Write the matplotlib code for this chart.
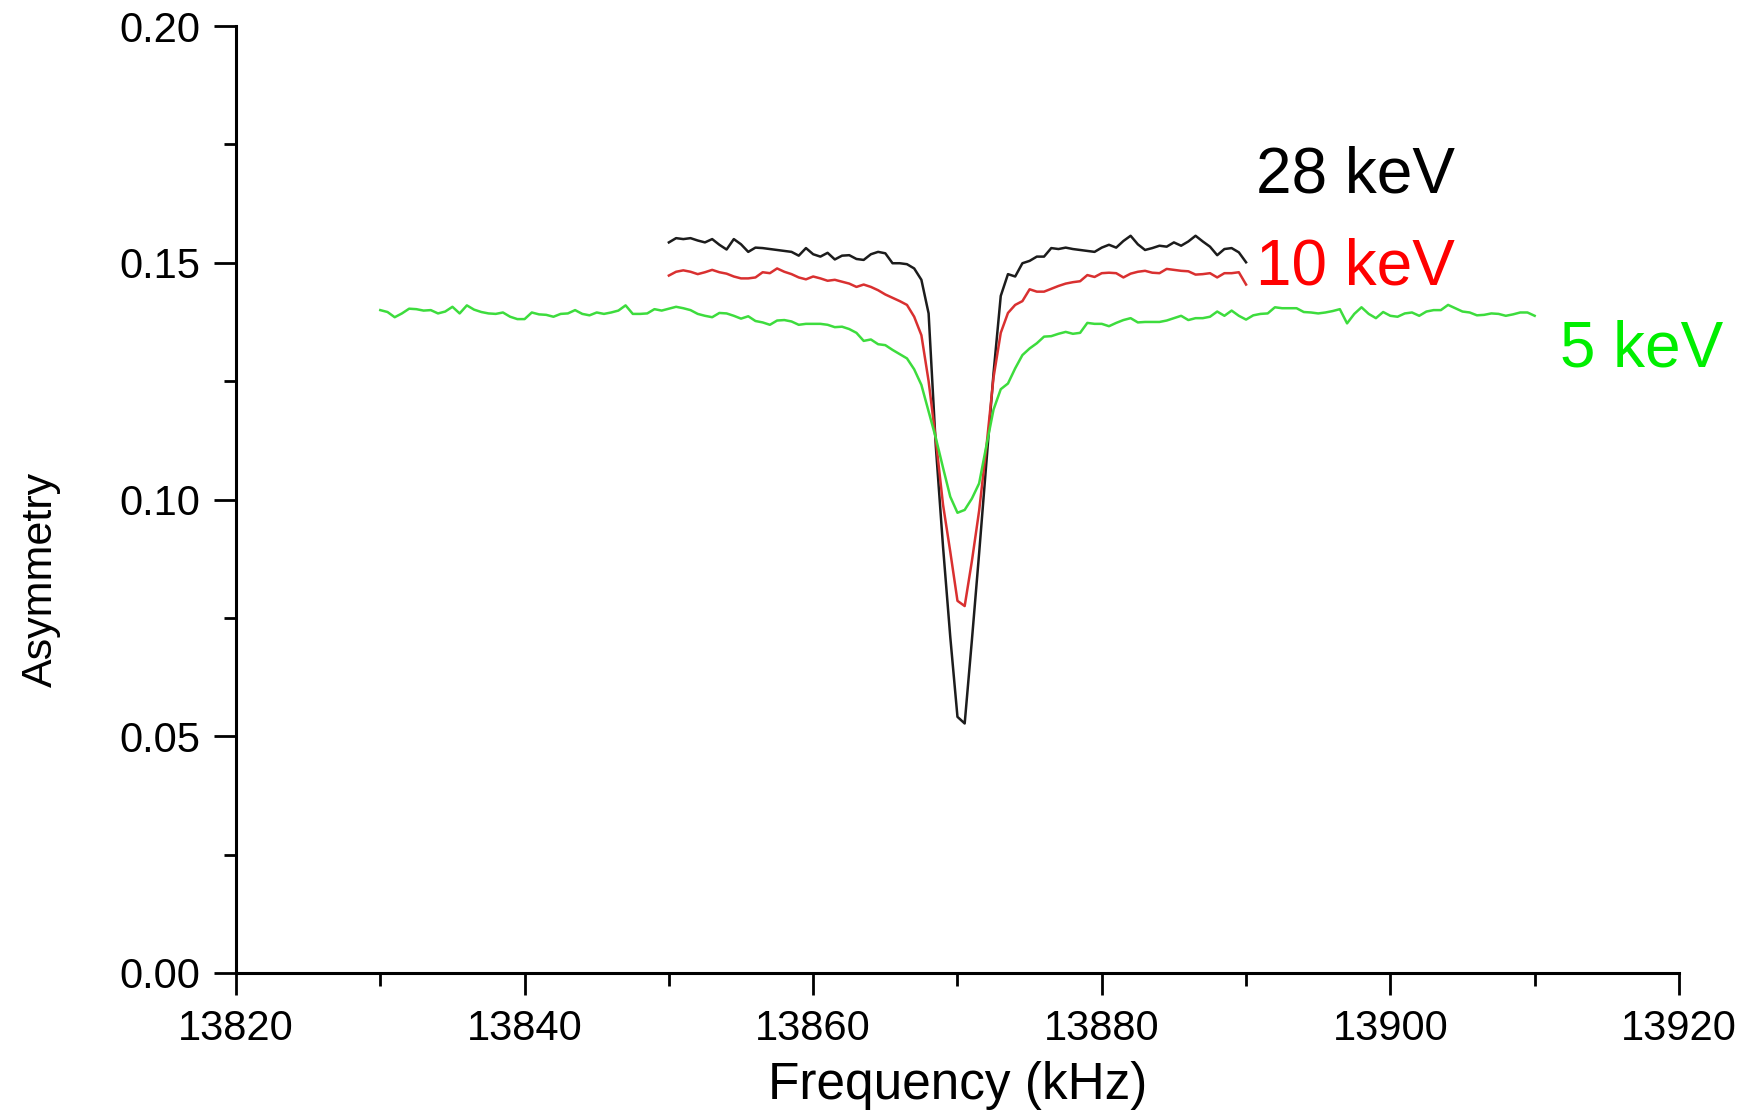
import numpy as np
import matplotlib
matplotlib.use("Agg")
import matplotlib.pyplot as plt
from matplotlib.ticker import MultipleLocator

plt.rcParams['font.family'] = ['Liberation Sans', 'DejaVu Sans']

# frequency grid starts (kHz), 0.5 kHz steps
start_28 = 13850.0
start_10 = 13850.0
start_5 = 13830.0
step = 0.5

# asymmetry
asym_28kev = [
    0.1543, 0.1552, 0.1550, 0.1552, 0.1547, 0.1543, 0.1550, 0.1538, 0.1528, 0.1550,
    0.1539, 0.1523, 0.1532, 0.1531, 0.1529, 0.1527, 0.1525, 0.1523, 0.1515, 0.1531,
    0.1518, 0.1513, 0.1521, 0.1507, 0.1515, 0.1516, 0.1508, 0.1506, 0.1518, 0.1523,
    0.1520, 0.1499, 0.1499, 0.1497, 0.1488, 0.1464, 0.1393,
    0.1112, 0.0900, 0.0710, 0.0541, 0.0527, 0.0703, 0.0886, 0.1077, 0.1267, 0.1430,
    0.1476, 0.1471, 0.1499, 0.1504, 0.1513, 0.1513, 0.1531, 0.1529, 0.1532, 0.1529,
    0.1527, 0.1525, 0.1523, 0.1532, 0.1538, 0.1532, 0.1546, 0.1557, 0.1539, 0.1527,
    0.1531, 0.1536, 0.1534, 0.1543, 0.1536, 0.1545, 0.1557, 0.1545, 0.1534, 0.1516,
    0.1529, 0.1531, 0.1522, 0.1501,
]

asym_10kev = [
    0.1473, 0.1481, 0.1484, 0.1481, 0.1476, 0.1480, 0.1485, 0.1480, 0.1477, 0.1471,
    0.1467, 0.1467, 0.1469, 0.1480, 0.1478, 0.1488, 0.1481, 0.1476, 0.1469, 0.1465,
    0.1471, 0.1467, 0.1462, 0.1464, 0.1460, 0.1456, 0.1449, 0.1454, 0.1449, 0.1442,
    0.1433, 0.1426, 0.1419, 0.1411, 0.1386, 0.1347, 0.1250,
    0.1126, 0.0989, 0.0890, 0.0786, 0.0775, 0.0870, 0.0976, 0.1110, 0.1258, 0.1352,
    0.1394, 0.1411, 0.1419, 0.1444, 0.1439, 0.1439, 0.1445, 0.1451, 0.1456, 0.1459,
    0.1461, 0.1474, 0.1470, 0.1478, 0.1479, 0.1478, 0.1469, 0.1477, 0.1481, 0.1483,
    0.1479, 0.1478, 0.1487, 0.1485, 0.1483, 0.1482, 0.1475, 0.1476, 0.1478, 0.1469,
    0.1478, 0.1478, 0.1480, 0.1454,
]

asym_5kev = [
    0.1400, 0.1396, 0.1385, 0.1393, 0.1403, 0.1402, 0.1399, 0.1400, 0.1393, 0.1397,
    0.1407, 0.1393, 0.1410, 0.1401, 0.1396, 0.1393, 0.1392, 0.1395, 0.1386, 0.1381,
    0.1381, 0.1395, 0.1391, 0.1390, 0.1386, 0.1392, 0.1393, 0.1400, 0.1392, 0.1389,
    0.1395, 0.1392, 0.1395, 0.1399, 0.1410, 0.1392, 0.1392, 0.1393, 0.1402, 0.1399,
    0.1403,
    0.1407, 0.1404, 0.1400, 0.1392, 0.1388, 0.1385, 0.1394, 0.1393, 0.1388, 0.1382,
    0.1387, 0.1377, 0.1374, 0.1369, 0.1378, 0.1379, 0.1376, 0.1369, 0.1371, 0.1371,
    0.1371, 0.1369, 0.1364, 0.1365, 0.1360, 0.1352, 0.1335, 0.1338, 0.1328, 0.1326,
    0.1316, 0.1307, 0.1298, 0.1275, 0.1242,
    0.1186, 0.1130, 0.1067, 0.1006, 0.0972, 0.0978, 0.1002, 0.1034, 0.1113, 0.1190,
    0.1233, 0.1245, 0.1277, 0.1305,
    0.1319, 0.1330, 0.1344, 0.1345, 0.1350, 0.1354, 0.1350, 0.1352, 0.1373, 0.1371,
    0.1371, 0.1366, 0.1373, 0.1379, 0.1383, 0.1374, 0.1375, 0.1375, 0.1375, 0.1378,
    0.1383, 0.1388, 0.1379, 0.1383, 0.1383, 0.1386, 0.1397, 0.1388, 0.1399, 0.1388,
    0.1380, 0.1389,
    0.1392, 0.1393, 0.1406, 0.1404, 0.1404, 0.1404, 0.1396, 0.1395, 0.1393, 0.1395,
    0.1398, 0.1402, 0.1372, 0.1392, 0.1406, 0.1392, 0.1383, 0.1396, 0.1388, 0.1386,
    0.1393, 0.1395, 0.1388, 0.1397, 0.1400, 0.1400, 0.1411, 0.1404, 0.1397, 0.1395,
    0.1389, 0.1390, 0.1393, 0.1392, 0.1388, 0.1391, 0.1395, 0.1395, 0.1388,
]

labels = ["28 keV", "10 keV", "5 keV"]
line_colors = ["#1c1c1c", "#d93030", "#3ddc3d"]
text_colors = ["#000000", "#ff0000", "#00ee00"]


def freq_axis(start, values):
    return start + step * np.arange(len(values))


fig = plt.figure(figsize=(17.52, 11.12), dpi=100)
ax = fig.add_axes([0.1347, 0.125, 0.8236, 0.8516])

series = [(start_28, asym_28kev), (start_10, asym_10kev), (start_5, asym_5kev)]
for (start, vals), col in zip(series, line_colors):
    ax.plot(freq_axis(start, vals), vals, color=col, lw=1.8)

ax.set_xlim(13820, 13920)
ax.set_ylim(0.0, 0.20)
ax.xaxis.set_major_locator(MultipleLocator(20))
ax.xaxis.set_minor_locator(MultipleLocator(10))
ax.yaxis.set_major_locator(MultipleLocator(0.05))
ax.yaxis.set_minor_locator(MultipleLocator(0.025))
ax.yaxis.set_major_formatter(plt.FuncFormatter(lambda v, p: f"{v:.2f}"))

for side in ["top", "right"]:
    ax.spines[side].set_visible(False)
for side in ["left", "bottom"]:
    ax.spines[side].set_linewidth(2.2)

ax.tick_params(which="major", direction="out", length=16, width=2.0,
               labelsize=30, pad=10)
ax.tick_params(which="minor", direction="out", length=9, width=2.0)

ax.set_xlabel("Frequency (kHz)", fontsize=37)
ax.set_ylabel("Asymmetry", fontsize=31)
ax.xaxis.set_label_coords(0.5, -0.093)
ax.yaxis.set_label_coords(-0.121, 0.416)

# energy labels next to the curves
text_pos = [(13904.5, 0.1685), (13904.5, 0.1489), (13923.1, 0.1316)]
for lab, col, (tx, ty) in zip(labels, text_colors, text_pos):
    ax.text(tx, ty, lab, color=col, fontsize=46, ha="right", va="center",
            clip_on=False)

fig.savefig("out.png", dpi=100)
